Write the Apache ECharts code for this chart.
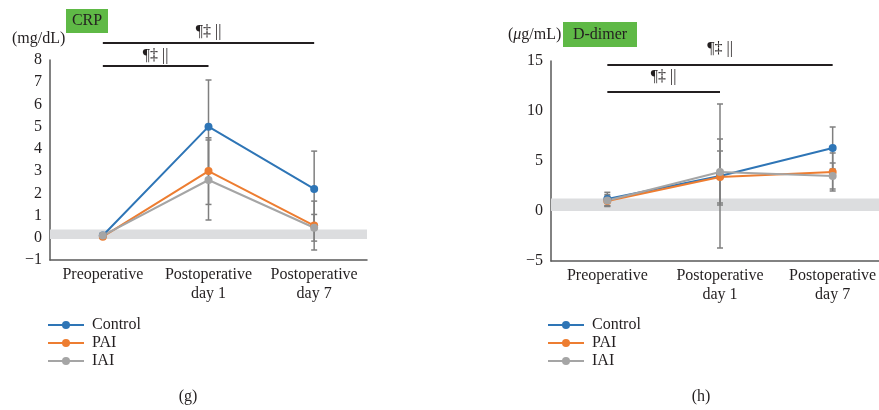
<!DOCTYPE html>
<html><head><meta charset="utf-8">
<script src="https://cdn.jsdelivr.net/npm/echarts@6/dist/echarts.min.js"></script>
<style>html,body{margin:0;padding:0;background:#fff}#main{width:879px;height:410px}</style>
</head><body><div id="main"></div>
<script>
const categories = ['Preoperative', 'Postoperative\nday 1', 'Postoperative\nday 7'];
const seriesNames = ['Control', 'PAI', 'IAI'];
const colors = ['#2e75b6', '#ed7d31', '#a5a5a5'];

// CRP (mg/dL)
const crpControl = [0.1, 5.0, 2.2];
const crpControlSD = [0.1, 2.1, 1.7];
const crpPAI = [0.05, 3.0, 0.55];
const crpPAISD = [0.08, 1.5, 1.1];
const crpIAI = [0.1, 2.6, 0.45];
const crpIAISD = [0.1, 1.8, 0.6];
const crpBand = [-0.05, 0.37];
const crpTicks = { min: -1, max: 8, interval: 1 };

// D-dimer (ug/mL)
const ddControl = [1.2, 3.5, 6.3];
const ddControlSD = [0.67, 7.2, 2.1];
const ddPAI = [1.0, 3.4, 3.9];
const ddPAISD = [0.5, 2.6, 1.9];
const ddIAI = [1.05, 3.9, 3.5];
const ddIAISD = [0.6, 3.3, 1.3];
const ddBand = [0, 1.25];
const ddTicks = { min: -5, max: 15, interval: 5 };

const sigLabel = '¶‡ ||';
const FONT = 'Liberation Serif';
const TXT = '#231f20';

const chart = echarts.init(document.getElementById('main'));

function lineSeries(name, data, gi, color, band) {
  const s = {
    name, type: 'line', data, xAxisIndex: gi, yAxisIndex: gi,
    symbol: 'circle', symbolSize: 8, z: 3,
    lineStyle: { color, width: 2 }, itemStyle: { color },
    emphasis: { disabled: true }, animation: false
  };
  if (band) {
    s.markArea = { silent: true, itemStyle: { color: '#dcdddf' }, z: 1,
      data: [[{ yAxis: band[0] }, { yAxis: band[1] }]] };
  }
  return s;
}
function errSeries(means, sds, gi) {
  return {
    type: 'custom', xAxisIndex: gi, yAxisIndex: gi, z: 2, silent: true, animation: false,
    data: means.map((m, i) => [i, m - sds[i], m + sds[i]]),
    encode: { x: 0, y: [1, 2] },
    renderItem: function (params, api) {
      const lo = api.coord([api.value(0), api.value(1)]);
      const hi = api.coord([api.value(0), api.value(2)]);
      const st = { stroke: '#7f7f7f', lineWidth: 1.5 };
      return { type: 'group', children: [
        { type: 'line', shape: { x1: lo[0], y1: lo[1], x2: hi[0], y2: hi[1] }, style: st },
        { type: 'line', shape: { x1: lo[0] - 3, y1: lo[1], x2: lo[0] + 3, y2: lo[1] }, style: st },
        { type: 'line', shape: { x1: hi[0] - 3, y1: hi[1], x2: hi[0] + 3, y2: hi[1] }, style: st }
      ]};
    }
  };
}
function xAx(gi) {
  return { type: 'category', gridIndex: gi, data: categories, boundaryGap: true, position: 'bottom',
    axisLine: { onZero: false, lineStyle: { color: '#595959', width: 1.5 } }, axisTick: { show: false },
    axisLabel: { fontFamily: FONT, fontSize: 16, color: TXT, margin: 5, lineHeight: 19, interval: 0 } };
}
function yAx(gi, t) {
  return { type: 'value', gridIndex: gi, min: t.min, max: t.max, interval: t.interval,
    splitLine: { show: false }, axisTick: { show: false },
    axisLine: { show: true, onZero: false, lineStyle: { color: '#595959', width: 1.5 } },
    axisLabel: { fontFamily: FONT, fontSize: 16, color: TXT, margin: 8,
      formatter: v => String(v).replace('-', '\u2212') } };
}
const legendBase = { orient: 'vertical', itemWidth: 36, itemHeight: 10, itemGap: 2,
  textStyle: { fontFamily: FONT, fontSize: 16, lineHeight: 16, color: TXT, padding: [0, 0, 0, 3] }, data: seriesNames, selectedMode: false };

chart.setOption({
  animation: false,
  grid: [
    { left: 50, top: 60, width: 317, height: 200, outerBoundsMode: 'none', containLabel: false },
    { left: 551, top: 61, width: 338, height: 200, outerBoundsMode: 'none', containLabel: false }
  ],
  xAxis: [xAx(0), xAx(1)],
  yAxis: [yAx(0, crpTicks), yAx(1, ddTicks)],
  legend: [
    Object.assign({ left: 42, top: 312 }, legendBase),
    Object.assign({ left: 542, top: 312 }, legendBase)
  ],
  series: [
    errSeries(crpControl, crpControlSD, 0), errSeries(crpPAI, crpPAISD, 0), errSeries(crpIAI, crpIAISD, 0),
    lineSeries('Control', crpControl, 0, colors[0], crpBand),
    lineSeries('PAI', crpPAI, 0, colors[1]),
    lineSeries('IAI', crpIAI, 0, colors[2]),
    errSeries(ddControl, ddControlSD, 1), errSeries(ddPAI, ddPAISD, 1), errSeries(ddIAI, ddIAISD, 1),
    lineSeries('Control', ddControl, 1, colors[0], ddBand),
    lineSeries('PAI', ddPAI, 1, colors[1]),
    lineSeries('IAI', ddIAI, 1, colors[2])
  ]
});

function px(gi, idx) { return chart.convertToPixel({ gridIndex: gi }, [idx, 0])[0]; }
function sig(gi, i0, i1, y, ty) {
  const x0 = px(gi, i0), x1 = px(gi, i1);
  return [
    { type: 'line', shape: { x1: x0, y1: y, x2: x1, y2: y }, style: { stroke: TXT, lineWidth: 2 } },
    { type: 'text', x: (x0 + x1) / 2, y: ty, style: { text: sigLabel, font: '16px "' + FONT + '"', fill: TXT, align: 'center', verticalAlign: 'middle' } }
  ];
}
const textStyle = (t, x, y, align) => ({ type: 'text', x, y, style: { text: t, font: '16px "' + FONT + '"', fill: TXT, align: align || 'left', verticalAlign: 'middle' } });

chart.setOption({
  graphic: [].concat(
    sig(0, 0, 2, 43, 32), sig(0, 0, 1, 66, 56),
    sig(1, 0, 2, 65, 49), sig(1, 0, 1, 92, 77),
    [
      textStyle('(mg/dL)', 12, 39),
      { type: 'rect', shape: { x: 66, y: 9, width: 42, height: 24 }, style: { fill: '#5fb946' } },
      textStyle('CRP', 87, 21, 'center'),
      { type: 'text', x: 508, y: 35, style: { text: '({i|μ}g/mL)', font: '16px "' + FONT + '"', fill: TXT, verticalAlign: 'middle',
        rich: { i: { fontStyle: 'italic', fontFamily: FONT, fontSize: 16, fill: TXT } } } },
      { type: 'rect', shape: { x: 563, y: 22, width: 74, height: 25 }, style: { fill: '#5fb946' } },
      textStyle('D-dimer', 600, 34.5, 'center'),
      textStyle('(g)', 188, 397, 'center'),
      textStyle('(h)', 701, 397, 'center')
    ]
  )
});
</script></body></html>
